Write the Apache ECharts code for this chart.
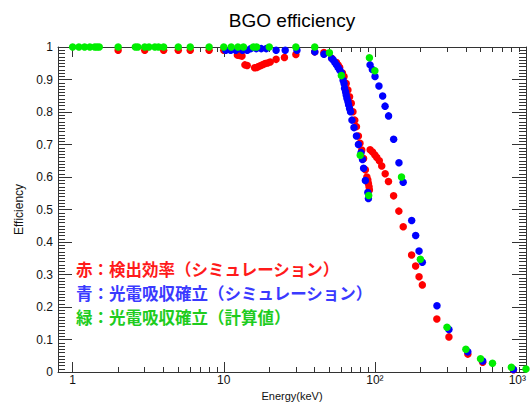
<!DOCTYPE html>
<html>
<head>
<meta charset="utf-8">
<script src="https://cdn.jsdelivr.net/npm/echarts@6/dist/echarts.min.js"></script>
<style>
  html, body { margin: 0; padding: 0; background: #fff; }
  #chart { width: 532px; height: 402px; }
</style>
</head>
<body>
<div id="chart"></div>
<script>
// Detection efficiency, simulation (red)
const redEnergy = [2, 3, 4, 5, 6, 8, 10,
  12.3, 12.8, 13.2, 13.8, 14.3,
  16.0, 16.5, 17.0, 17.6, 18.2, 18.8, 19.5, 20.3, 22.2, 25.2, 30, 40, 46,
  52, 55.7, 57.1, 58.5, 61, 62.5, 64.6, 66.3, 68, 69.8, 71.6, 73.6, 75.5, 77.8, 79.7,
  81.9, 84.2, 86.5, 88.5, 89.8, 90.6, 91.5, 92,
  93, 96.5, 100, 103, 107, 111, 117, 123, 133, 144, 154, 175, 186, 196, 206,
  257, 309, 412, 517, 826];
const redEff = [0.99, 0.99, 0.99, 0.99, 0.99, 0.99, 0.99,
  0.975, 0.974, 0.972, 0.945, 0.943,
  0.936, 0.937, 0.94, 0.943, 0.946, 0.949, 0.951, 0.954, 0.962, 0.968, 0.977, 0.985, 0.983,
  0.965, 0.952, 0.945, 0.937, 0.92, 0.909, 0.888, 0.868, 0.847, 0.827, 0.801, 0.775, 0.755, 0.726, 0.704,
  0.683, 0.657, 0.622, 0.60, 0.591, 0.58, 0.57, 0.56,
  0.684, 0.677, 0.668, 0.66, 0.65, 0.634, 0.61, 0.586, 0.542, 0.495, 0.447, 0.36, 0.326, 0.293, 0.268,
  0.163, 0.108, 0.055, 0.03, 0.007];

// Photoabsorption probability, simulation (blue)
const blueEnergy = [10.3, 11.1, 12, 13.3, 14.3, 15.1, 16.4, 17.7, 19.1, 22.2, 25.5, 30.5, 40, 46,
  51.7, 53, 54.4, 55.7, 57.1, 58.5, 60, 61.6, 62.5, 63, 64, 64.6, 65.3, 66.3, 67, 68, 69,
  70.5, 72.7, 75.5, 77.8, 81, 82.8, 84.2, 86.5, 89.8, 90.6,
  92.9, 96.2, 100.2, 106.4, 112.6, 116.8, 123.2, 133.1, 144.3, 153.9, 175.2, 186.2, 196, 206,
  257.5, 309, 412, 517, 826];
const blueEff = [0.99, 0.99, 0.99, 0.99, 0.99, 0.995, 0.995, 0.995, 0.995, 0.99, 0.99, 0.99, 0.985, 0.978,
  0.965, 0.96, 0.952, 0.945, 0.937, 0.929, 0.921, 0.898, 0.888, 0.873, 0.862, 0.852, 0.842, 0.832, 0.822, 0.811, 0.801,
  0.775, 0.752, 0.726, 0.70, 0.675, 0.654, 0.627, 0.589, 0.552, 0.534,
  0.945, 0.931, 0.909, 0.88, 0.849, 0.818, 0.788, 0.716, 0.644, 0.584, 0.466, 0.42, 0.372, 0.338,
  0.204, 0.131, 0.062, 0.034, 0.008];

// Photoabsorption probability, calculated (green)
const greenEnergy = [1.0, 1.1, 1.2, 1.3, 1.4, 1.45, 1.5, 2.0, 2.6, 2.7, 3.0, 3.2, 3.5, 3.7, 4.0,
  5.0, 6.0, 8.0, 10, 11.2, 12.4, 13.5, 15.7, 16.5, 20, 30, 40,
  50, 60, 80, 91, 92, 100, 150, 200, 300, 400, 500, 600, 800, 1000];
const greenEff = [1, 1, 1, 1, 1, 1, 1, 1, 1, 1, 1, 1, 1, 1, 1,
  1, 1, 1, 1, 1, 1, 1, 1, 1, 1, 1, 1,
  0.982, 0.912, 0.667, 0.543, 0.967, 0.927, 0.60, 0.347, 0.1375, 0.07, 0.041, 0.027, 0.0145, 0.009];

// Axis ticks (energy in keV)
const xMajorTicks = [1, 10, 100, 1000];
const xMajorLabels = ['1', '10', '10²', '10³'];
const xMinorTicks = [2, 3, 4, 5, 6, 7, 8, 9, 20, 30, 40, 50, 60, 70, 80, 90,
  200, 300, 400, 500, 600, 700, 800, 900];
const xMin = 0.8, xMax = 1000;

// Annotation lines (key to the three colours)
const noteLines = [
  { key: 'r', text: '赤：検出効率（シミュレーション）', color: '#ff1a1a' },
  { key: 'b', text: '青：光電吸収確立（シミュレーション）', color: '#3a3aff' },
  { key: 'g', text: '緑：光電吸収確立（計算値）', color: '#1ecc1e' }
];

const lg = Math.log10;
const pairs = (xs, ys) => xs.map((e, i) => [lg(e), ys[i]]);

const axisColor = '#333';
const labelColor = '#111';
const fontFamily = '"Liberation Sans", Arial, Helvetica, sans-serif';
const cjkFont = '"Noto Sans CJK JP", "Noto Sans CJK SC", sans-serif';
const lo = lg(xMin), hi = lg(xMax);

function xAxisDef(pos, ticks, len, withLabels, withLine) {
  const ax = {
    type: 'value', position: pos, min: lo, max: hi,
    axisLine: { show: withLine, onZero: false, lineStyle: { color: axisColor, width: 1 } },
    axisTick: { show: true, inside: true, length: len, customValues: ticks.map(lg),
      lineStyle: { color: axisColor, width: 1 } },
    axisLabel: { show: withLabels },
    splitLine: { show: false }
  };
  if (withLabels) {
    ax.axisLabel = {
      show: true, customValues: xMajorTicks.map(lg), margin: 2,
      color: labelColor, fontSize: 12, fontFamily: fontFamily,
      alignMaxLabel: 'right',
      formatter: v => xMajorLabels[xMajorTicks.findIndex(t => Math.abs(lg(t) - v) < 1e-6)] || ''
    };
    ax.name = 'Energy(keV)';
    ax.nameLocation = 'middle';
    ax.nameGap = 16;
    ax.nameTextStyle = { color: labelColor, fontSize: 11, fontFamily: fontFamily };
  }
  return ax;
}

function yAxisDef(pos, withLabels) {
  const ax = {
    type: 'value', position: pos, min: 0, max: 1, interval: 0.1,
    axisLine: { show: true, onZero: false, lineStyle: { color: axisColor, width: 1 } },
    axisTick: { show: true, inside: true, length: 14, lineStyle: { color: axisColor, width: 1 } },
    minorTick: { show: true, splitNumber: 10, length: 7, lineStyle: { color: axisColor, width: 1 } },
    axisLabel: { show: withLabels },
    splitLine: { show: false }, minorSplitLine: { show: false }
  };
  if (withLabels) {
    ax.axisLabel = {
      show: true, margin: 5, color: labelColor, fontSize: 12, fontFamily: fontFamily,
      formatter: v => (Math.abs(v) < 1e-9 ? '0' : Math.abs(v - 1) < 1e-9 ? '1' : v.toFixed(1))
    };
    ax.name = 'Efficiency';
    ax.nameLocation = 'middle';
    ax.nameGap = 32;
    ax.nameTextStyle = { color: labelColor, fontSize: 12, fontFamily: fontFamily };
  }
  return ax;
}

function scatter(name, data, color) {
  return {
    name: name, type: 'scatter', xAxisIndex: 0, yAxisIndex: 0,
    data: data, symbol: 'circle', symbolSize: 7.5,
    itemStyle: { color: color, opacity: 1 },
    silent: true
  };
}

const noteRich = {};
noteLines.forEach(l => {
  noteRich[l.key] = { fill: l.color, fontSize: 16.5, fontWeight: 'bold',
    fontFamily: cjkFont, lineHeight: 24 };
});

const chart = echarts.init(document.getElementById('chart'), null, { renderer: 'svg' });
chart.setOption({
  animation: false,
  backgroundColor: '#fff',
  grid: { left: 58, right: 6, top: 47, bottom: 30, containLabel: false, outerBoundsMode: 'none' },
  xAxis: [
    xAxisDef('bottom', xMajorTicks, 10, true, true),
    xAxisDef('bottom', xMinorTicks, 5, false, false),
    xAxisDef('top', xMajorTicks, 10, false, true),
    xAxisDef('top', xMinorTicks, 5, false, false)
  ],
  yAxis: [yAxisDef('left', true), yAxisDef('right', false)],
  series: [
    scatter('赤', pairs(redEnergy, redEff), '#ff0000'),
    scatter('青', pairs(blueEnergy, blueEff), '#0000ff'),
    scatter('緑', pairs(greenEnergy, greenEff), '#00ee00')
  ],
  graphic: [
    { type: 'text', x: 292, y: 20, silent: true,
      style: { text: 'BGO efficiency', align: 'center', verticalAlign: 'middle',
        fill: '#000', font: '19px ' + fontFamily } },
    { type: 'text', x: 76, y: 257, silent: true,
      style: {
        text: noteLines.map(l => '{' + l.key + '|' + l.text + '}').join('\n'),
        align: 'left', verticalAlign: 'top', rich: noteRich,
        fontSize: 16.5, fontWeight: 'bold', fontFamily: cjkFont, lineHeight: 24
      } }
  ]
});
</script>
</body>
</html>
